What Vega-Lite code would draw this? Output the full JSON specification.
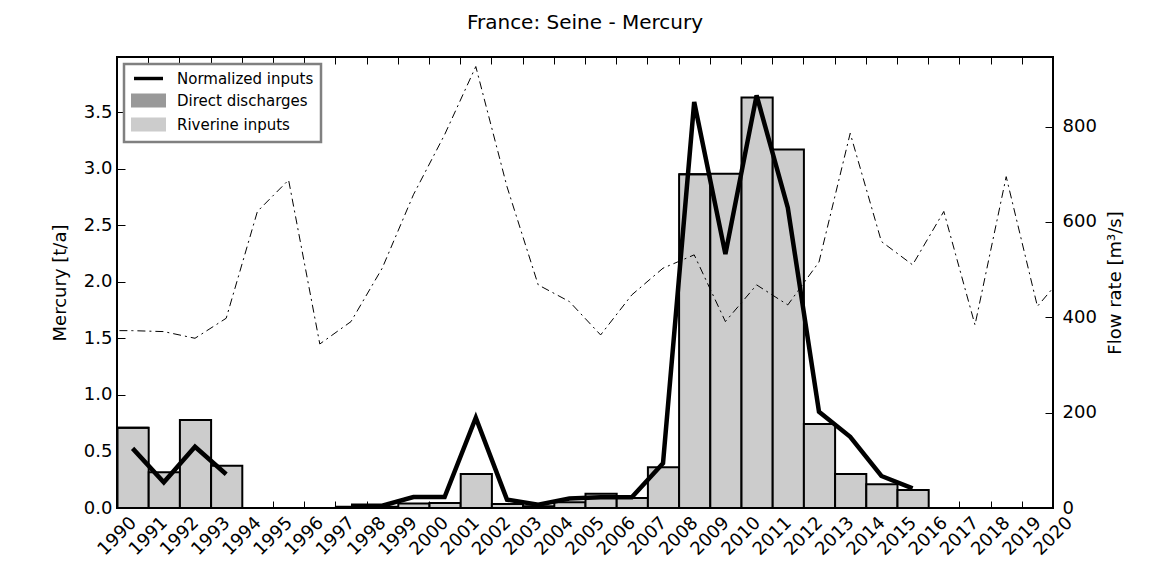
{
  "$schema": "https://vega.github.io/schema/vega-lite/v6.json",
  "width": 936,
  "height": 451,
  "autosize": {"type": "none"},
  "padding": {"left": 117, "top": 57, "right": 117, "bottom": 58},
  "background": "white",
  "title": {"text": "France: Seine - Mercury", "fontSize": 20, "font": "DejaVu Sans", "fontWeight": "normal", "anchor": "middle", "offset": 24, "color": "black"},
  "datasets": {
    "loads": [
      {"year": 1990, "source": "Riverine inputs", "value": 0.709},
      {"year": 1991, "source": "Riverine inputs", "value": 0.315},
      {"year": 1992, "source": "Riverine inputs", "value": 0.777},
      {"year": 1993, "source": "Riverine inputs", "value": 0.374},
      {"year": 1997, "source": "Riverine inputs", "value": 0.01},
      {"year": 1998, "source": "Riverine inputs", "value": 0.01},
      {"year": 1999, "source": "Riverine inputs", "value": 0.04},
      {"year": 2000, "source": "Riverine inputs", "value": 0.045},
      {"year": 2001, "source": "Riverine inputs", "value": 0.3},
      {"year": 2002, "source": "Riverine inputs", "value": 0.035},
      {"year": 2003, "source": "Riverine inputs", "value": 0.015},
      {"year": 2004, "source": "Riverine inputs", "value": 0.05},
      {"year": 2005, "source": "Riverine inputs", "value": 0.126},
      {"year": 2006, "source": "Riverine inputs", "value": 0.088},
      {"year": 2007, "source": "Riverine inputs", "value": 0.36},
      {"year": 2008, "source": "Riverine inputs", "value": 2.951},
      {"year": 2009, "source": "Riverine inputs", "value": 2.955},
      {"year": 2010, "source": "Riverine inputs", "value": 3.628},
      {"year": 2011, "source": "Riverine inputs", "value": 3.169},
      {"year": 2012, "source": "Riverine inputs", "value": 0.742},
      {"year": 2013, "source": "Riverine inputs", "value": 0.3},
      {"year": 2014, "source": "Riverine inputs", "value": 0.209},
      {"year": 2015, "source": "Riverine inputs", "value": 0.159},
      {"year": 1990, "source": "Direct discharges", "value": 0},
      {"year": 2008, "source": "Direct discharges", "value": 0},
      {"year": 2015, "source": "Direct discharges", "value": 0}
    ],
    "normalized": [
      {"year": 1990, "normalized": 0.527},
      {"year": 1991, "normalized": 0.227},
      {"year": 1992, "normalized": 0.542},
      {"year": 1993, "normalized": 0.298},
      {"year": 1994, "normalized": null},
      {"year": 1995, "normalized": null},
      {"year": 1996, "normalized": null},
      {"year": 1997, "normalized": 0.02},
      {"year": 1998, "normalized": 0.02},
      {"year": 1999, "normalized": 0.097},
      {"year": 2000, "normalized": 0.097},
      {"year": 2001, "normalized": 0.798},
      {"year": 2002, "normalized": 0.074},
      {"year": 2003, "normalized": 0.03},
      {"year": 2004, "normalized": 0.083},
      {"year": 2005, "normalized": 0.094},
      {"year": 2006, "normalized": 0.094},
      {"year": 2007, "normalized": 0.395},
      {"year": 2008, "normalized": 3.589},
      {"year": 2009, "normalized": 2.244},
      {"year": 2010, "normalized": 3.648},
      {"year": 2011, "normalized": 2.655},
      {"year": 2012, "normalized": 0.851},
      {"year": 2013, "normalized": 0.63},
      {"year": 2014, "normalized": 0.283},
      {"year": 2015, "normalized": 0.174}
    ],
    "flow": [
      {"year": 1989, "flow": 372},
      {"year": 1990, "flow": 372},
      {"year": 1991, "flow": 370},
      {"year": 1992, "flow": 356},
      {"year": 1993, "flow": 398},
      {"year": 1994, "flow": 622},
      {"year": 1995, "flow": 688},
      {"year": 1996, "flow": 344},
      {"year": 1997, "flow": 391},
      {"year": 1998, "flow": 503},
      {"year": 1999, "flow": 657},
      {"year": 2000, "flow": 783},
      {"year": 2001, "flow": 926},
      {"year": 2002, "flow": 674},
      {"year": 2003, "flow": 468},
      {"year": 2004, "flow": 433},
      {"year": 2005, "flow": 363},
      {"year": 2006, "flow": 447},
      {"year": 2007, "flow": 503},
      {"year": 2008, "flow": 531},
      {"year": 2009, "flow": 391},
      {"year": 2010, "flow": 468},
      {"year": 2011, "flow": 426},
      {"year": 2012, "flow": 516},
      {"year": 2013, "flow": 786},
      {"year": 2014, "flow": 559},
      {"year": 2015, "flow": 510},
      {"year": 2016, "flow": 622},
      {"year": 2017, "flow": 384},
      {"year": 2018, "flow": 695},
      {"year": 2019, "flow": 423},
      {"year": 2020, "flow": 500}
    ]
  },
  "config": {
    "font": "DejaVu Sans",
    "view": {"stroke": "black", "strokeWidth": 2},
    "axis": {
      "labelFont": "DejaVu Sans", "labelFontSize": 18, "labelColor": "black",
      "titleFont": "DejaVu Sans", "titleFontSize": 18, "titleFontWeight": "normal", "titleColor": "black",
      "tickColor": "black", "tickWidth": 1, "domain": false, "grid": false,
      "labelFlush": false, "labelOverlap": false, "labelBound": false
    },
    "legend": {
      "orient": "top-left", "offset": 7, "padding": 7,
      "strokeColor": "#808080", "strokeWidth": 2.5, "fillColor": "white",
      "labelFont": "DejaVu Sans", "labelFontSize": 15, "labelColor": "black",
      "symbolSize": 144, "rowPadding": 3, "labelOffset": 21, "symbolOffset": 10,
      "symbolStrokeColor": "black", "symbolStrokeWidth": 2
    }
  },
  "layer": [
    {
      "data": {"name": "loads"},
      "mark": {"type": "bar", "stroke": "black", "strokeWidth": 2, "binSpacing": 0, "opacity": 1},
      "encoding": {
        "x": {
          "field": "year", "type": "quantitative",
          "bin": {"step": 1, "extent": [1990, 2020]},
          "scale": {"domain": [1990, 2020], "nice": false, "zero": false},
          "axis": {
            "orient": "bottom", "title": null,
            "values": [1990,1991,1992,1993,1994,1995,1996,1997,1998,1999,2000,2001,2002,2003,2004,2005,2006,2007,2008,2009,2010,2011,2012,2013,2014,2015,2016,2017,2018,2019,2020],
            "format": "d", "labelAngle": -45, "labelAlign": "center", "labelBaseline": "middle",
            "tickSize": -7, "labelPadding": 35
          }
        },
        "y": {
          "field": "value", "type": "quantitative", "stack": "zero",
          "scale": {"domain": [0, 3.987], "nice": false},
          "axis": {
            "orient": "left", "title": "Mercury [t/a]",
            "values": [0, 0.5, 1, 1.5, 2, 2.5, 3, 3.5], "format": ".1f",
            "tickSize": -8, "labelPadding": 13, "titlePadding": 14
          }
        },
        "color": {
          "field": "source", "type": "nominal",
          "scale": {"domain": ["Normalized inputs", "Direct discharges", "Riverine inputs"], "range": ["black", "#999999", "#cccccc"]},
          "legend": {"title": null}
        }
      }
    },
    {
      "data": {"name": "normalized"},
      "mark": {"type": "line", "strokeWidth": 4.5, "invalid": "break-paths-filter-domains"},
      "encoding": {
        "x": {
          "field": "year", "type": "quantitative",
          "bin": {"step": 1, "extent": [1990, 2020]},
          "scale": {"domain": [1990, 2020], "nice": false, "zero": false},
          "axis": null
        },
        "y": {
          "field": "normalized", "type": "quantitative",
          "scale": {"domain": [0, 3.987], "nice": false},
          "axis": null
        },
        "color": {
          "datum": "Normalized inputs", "type": "nominal",
          "legend": {
            "title": null,
            "encode": {
              "symbols": {
                "update": {
                  "shape": [{"test": "datum.value === 'Normalized inputs'", "value": "M-2.25,-0.12H2.25V0.12H-2.25Z"}, {"value": "M-2.75,-1H2.75V1H-2.75Z"}],
                  "stroke": {"value": "black"},
                  "strokeWidth": {"value": 2},
                  "fill": [{"test": "datum.value === 'Normalized inputs'", "value": "black"}, {"test": "datum.value === 'Direct discharges'", "value": "#999999"}, {"value": "#cccccc"}],
                  "opacity": {"value": 1}
                }
              }
            }
          }
        }
      }
    },
    {
      "data": {"name": "flow"},
      "mark": {"type": "line", "color": "black", "strokeWidth": 1, "strokeDash": [8, 4, 2, 4], "clip": true},
      "encoding": {
        "x": {
          "field": "year", "type": "quantitative",
          "bin": {"step": 1, "extent": [1989, 2021]},
          "scale": {"domain": [1990, 2020], "nice": false, "zero": false},
          "axis": {
            "orient": "top", "title": null, "labels": false,
            "values": [1990,1991,1992,1993,1994,1995,1996,1997,1998,1999,2000,2001,2002,2003,2004,2005,2006,2007,2008,2009,2010,2011,2012,2013,2014,2015,2016,2017,2018,2019,2020],
            "tickSize": -7
          }
        },
        "y": {
          "field": "flow", "type": "quantitative",
          "scale": {"domain": [0, 946], "nice": false},
          "axis": {
            "orient": "right", "title": "Flow rate [m³/s]",
            "values": [0, 200, 400, 600, 800],
            "tickSize": -8, "labelPadding": 17, "titlePadding": 10,
            "titleAngle": -90, "titleBaseline": "top"
          }
        }
      }
    }
  ],
  "resolve": {"scale": {"y": "independent"}, "axis": {"x": "independent"}}
}
